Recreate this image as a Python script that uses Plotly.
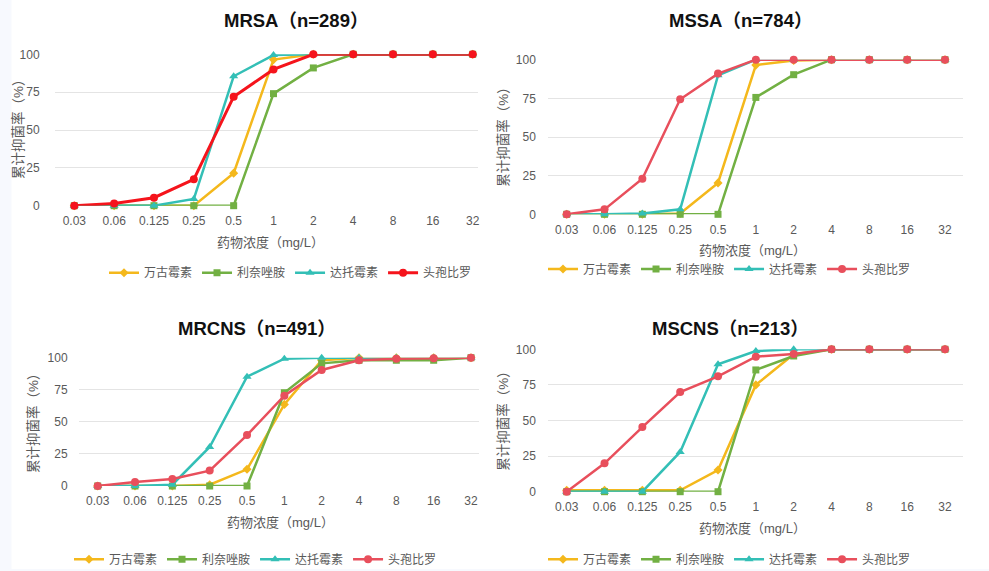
import plotly.graph_objects as go

W, H = 989, 571

conc = ["0.03", "0.06", "0.125", "0.25", "0.5", "1", "2", "4", "8", "16", "32"]
drugs = ["万古霉素", "利奈唑胺", "达托霉素", "头孢比罗"]
y_ticks = [0, 25, 50, 75, 100]

# ---- data (cumulative inhibition %) ----
mrsa_vanco = [0, 0, 0, 0, 21.5, 96.5, 100, 100, 100, 100, 100]
mrsa_linez = [0, 0, 0, 0, 0, 74, 91, 100, 100, 100, 100]
mrsa_dapto = [0, 0, 0, 4.5, 85.5, 99.5, 100, 100, 100, 100, 100]
mrsa_ceft = [0, 1.5, 5.3, 17.4, 72, 90, 100, 100, 100, 100, 100]

mssa_vanco = [0, 0, 0, 0.5, 20.3, 96.5, 99.5, 100, 100, 100, 100]
mssa_linez = [0, 0, 0, 0, 0, 75.6, 90.3, 100, 100, 100, 100]
mssa_dapto = [0, 0, 0.5, 3.2, 89.9, 100, 100, 100, 100, 100, 100]
mssa_ceft = [0, 3.2, 23, 74.4, 91, 100, 100, 100, 100, 100, 100]

mrcns_vanco = [0, 0, 0, 1, 13, 63.6, 98, 100, 100, 100, 100]
mrcns_linez = [0, 0, 0, 0, 0, 72.7, 95.6, 98, 98, 98, 100]
mrcns_dapto = [0, 0, 1, 30.4, 85.2, 99.2, 100, 100, 100, 100, 100]
mrcns_ceft = [0, 3.1, 5.5, 12, 39.7, 70.4, 90.4, 98, 99.2, 99.5, 100]

mscns_vanco = [1, 1, 1, 1, 15.2, 75, 96.5, 100, 100, 100, 100]
mscns_linez = [0, 0, 0, 0, 0, 85.5, 95.3, 100, 100, 100, 100]
mscns_dapto = [0, 0, 0, 27.9, 89.5, 98.8, 100, 100, 100, 100, 100]
mscns_ceft = [0, 19.9, 45.4, 70, 81, 94.8, 96.7, 100, 100, 100, 100]

titles = ["MRSA（n=289）", "MSSA（n=784）", "MRCNS（n=491）", "MSCNS（n=213）"]
panels = [
    [mrsa_vanco, mrsa_linez, mrsa_dapto, mrsa_ceft],
    [mssa_vanco, mssa_linez, mssa_dapto, mssa_ceft],
    [mrcns_vanco, mrcns_linez, mrcns_dapto, mrcns_ceft],
    [mscns_vanco, mscns_linez, mscns_dapto, mscns_ceft],
]

# ---- styles ----
YELLOW = "#F4B81C"
GREEN = "#72B043"
TEAL = "#33BFB6"
RED_SOFT = "#E84F5C"
RED_PURE = "#F5141C"
TXT = "#595959"
GRID = "#E4E4E4"
FONT = "Liberation Sans, Noto Sans CJK SC, sans-serif"

# pixel geometry per panel: grid start/end x, category 0 / 10 x, y(0), y(100), y-gap
geo = [
    dict(gs=55, ge=478, c0=74.3, c10=472.7, y0=205.7, y100=54.3, gap=15),
    dict(gs=548.3, ge=963.3, c0=566.7, c10=945, y0=214.3, y100=59.7, gap=12),
    dict(gs=79, ge=479, c0=97.7, c10=471, y0=486, y100=357.7, gap=11),
    dict(gs=548.3, ge=963.3, c0=566.7, c10=945, y0=491.7, y100=349.3, gap=12),
]
title_pos = [(295.5, 20.7), (740, 20.7), (256.7, 328.3), (730.8, 328.3)]
ytitle_pos = [(18, 126), (502.7, 133), (33, 420), (502.7, 417)]
xtitle_pos = [(270, 242.7), (752, 250.7), (280.8, 522.7), (752, 528.3)]
legend_pos = [(104, 272.7), (543, 269), (69, 559.3), (543, 559.3)]

fig = go.Figure()

symbols = ["diamond", "square", "triangle-up", "circle"]
msizes = [7, 7, 8, 8]

for p in range(4):
    xa = "x" if p == 0 else f"x{p+1}"
    ya = "y" if p == 0 else f"y{p+1}"
    lg = "legend" if p == 0 else f"legend{p+1}"
    red = RED_PURE if p == 0 else RED_SOFT
    cols = [YELLOW, GREEN, TEAL, red]
    for i, vals in enumerate(panels[p]):
        lw = 3 if (p == 0 and i == 3) else 2.5
        fig.add_trace(go.Scatter(
            x=conc, y=vals, name=drugs[i], mode="lines+markers",
            xaxis=xa, yaxis=ya, legend=lg, cliponaxis=False,
            line=dict(color=cols[i], width=lw),
            marker=dict(symbol=symbols[i], size=msizes[i], color=cols[i],
                        line=dict(width=0)),
        ))

layout = dict(
    width=W, height=H,
    margin=dict(l=0, r=0, t=0, b=0, autoexpand=False),
    paper_bgcolor="white", plot_bgcolor="white",
    font=dict(family=FONT, color=TXT, size=12),
    showlegend=True,
)

annotations = []
for p in range(4):
    g = geo[p]
    sp = (g["c10"] - g["c0"]) / 10
    xr = [-(g["c0"] - g["gs"]) / sp, 10 + (g["ge"] - g["c10"]) / sp]
    suffix = "" if p == 0 else str(p + 1)
    layout["xaxis" + suffix] = dict(
        domain=[g["gs"] / W, g["ge"] / W], range=xr, type="category",
        anchor="y" + suffix, showgrid=False, zeroline=False, showline=False,
        ticks="outside", ticklen=4, tickcolor="rgba(0,0,0,0)", automargin=False,
        tickfont=dict(size=12, color=TXT), fixedrange=True,
    )
    layout["yaxis" + suffix] = dict(
        domain=[1 - g["y0"] / H, 1 - g["y100"] / H], range=[0, 100],
        anchor="x" + suffix, tickvals=y_ticks, showgrid=True, gridcolor=GRID,
        gridwidth=1, zeroline=False, showline=False, automargin=False,
        ticks="outside", ticklen=g["gap"] - 3, tickcolor="rgba(0,0,0,0)",
        tickfont=dict(size=12, color=TXT), fixedrange=True,
    )
    lx, ly = legend_pos[p]
    layout["legend" if p == 0 else f"legend{p+1}"] = dict(
        orientation="h", x=lx / W, y=1 - ly / H, xanchor="left", yanchor="middle",
        xref="paper", yref="paper", bgcolor="rgba(0,0,0,0)",
        font=dict(size=12, color=TXT, family=FONT), itemclick=False,
    )
    tx, ty = title_pos[p]
    annotations.append(dict(text="<b>" + titles[p] + "</b>", x=tx / W, y=1 - ty / H,
                            xref="paper", yref="paper", showarrow=False,
                            xanchor="center", yanchor="middle",
                            font=dict(size=18.5, color="#111111", family=FONT)))
    yx, yy = ytitle_pos[p]
    annotations.append(dict(text="累计抑菌率（%）", x=yx / W, y=1 - yy / H,
                            xref="paper", yref="paper", showarrow=False,
                            textangle=-90, xanchor="center", yanchor="middle",
                            font=dict(size=13.5, color=TXT, family=FONT)))
    xx, xy = xtitle_pos[p]
    annotations.append(dict(text="药物浓度（mg/L）", x=xx / W, y=1 - xy / H,
                            xref="paper", yref="paper", showarrow=False,
                            xanchor="center", yanchor="middle",
                            font=dict(size=13, color=TXT, family=FONT)))

layout["annotations"] = annotations
layout["shapes"] = [
    dict(type="rect", xref="paper", yref="paper", x0=0, x1=11.5 / W, y0=0, y1=1,
         fillcolor="#F7F9FE", line=dict(width=0), layer="below"),
    dict(type="rect", xref="paper", yref="paper", x0=0, x1=1, y0=0, y1=2 / H,
         fillcolor="#F7F9FE", line=dict(width=0), layer="below"),
]

fig.update_layout(**layout)
fig.write_html(
    "out.html",
    config={"displayModeBar": False},
    post_script="document.body.style.margin='0';document.body.style.overflow='hidden';",
)
